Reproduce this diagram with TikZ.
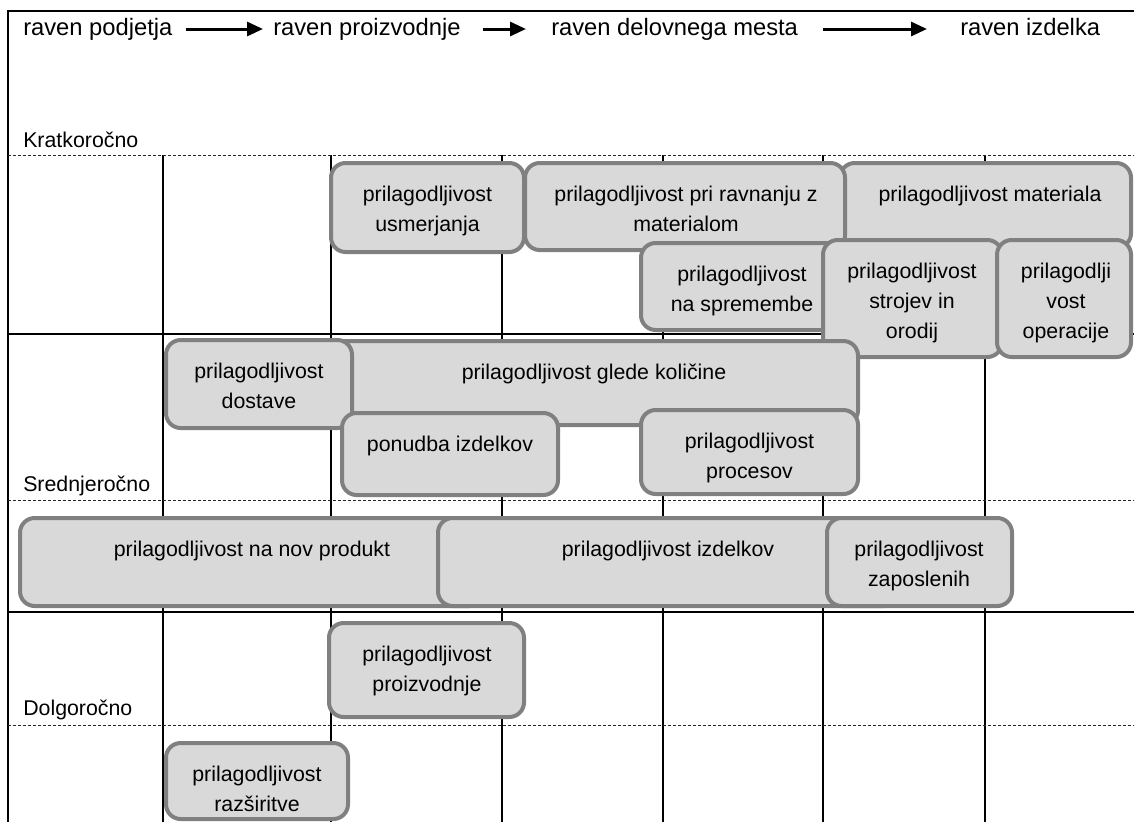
\documentclass[tikz,border=0pt]{standalone}
\usepackage{fontspec}
\setmainfont{Liberation Sans}
\usetikzlibrary{arrows.meta}
\definecolor{boxfill}{HTML}{D9D9D9}
\definecolor{boxline}{HTML}{808080}
\newcommand\st{\strut}
\newcommand\flexbox[7]{%
  \pgfmathsetmacro\bw{(#4-#2)*0.75}%
  \pgfmathsetmacro\bh{(#5-#3)*0.75}%
  \node[box, minimum width=\bw pt, minimum height=\bh pt] (#1) at ({(#2+#4)/2},{(#3+#5)/2}) {};
  \node[boxtext] (#1-t) at (#6,#3+17) {#7};
}
\tikzset{
  box/.style={draw=boxline, fill=boxfill, line width=3pt, rounded corners=11pt, inner sep=0pt, outer sep=0pt},
  boxtext/.style={inner sep=0pt, align=center, anchor=north, font=\fontsize{16}{22.5}\selectfont},
  header/.style={inner sep=0pt, anchor=base west, text height=13pt, text depth=4pt, font=\fontsize{17.8}{21}\selectfont},
  rowlabel/.style={inner sep=0pt, anchor=base west, font=\fontsize{16}{22.5}\selectfont},
  solidline/.style={line width=1.5pt, black},
  dashline/.style={line width=0.75pt, black!85, dash pattern=on 2.25pt off 1.5pt},
  levelarrow/.style={line width=2.25pt, -{Triangle[length=12pt, width=10.5pt]}},
}
\begin{document}
\begin{tikzpicture}[x=0.75pt, y=-0.75pt]
\useasboundingbox (0,0) rectangle (1134,822);
% frame and grid
\draw[solidline] (8,822) -- (8,11) -- (1134,11);
\foreach \xx in {163,331,502,663,823,985} \draw[solidline] (\xx,155) -- (\xx,822);
\foreach \yy in {334,612} \draw[solidline] (8,\yy) -- (1134,\yy);
\foreach \yy in {155,500,725} \draw[dashline] (8,\yy) -- (1134,\yy);
% headers
\node[header] (h1) at (23,35) {raven podjetja};
\node[header] (h2) at (273,35) {raven proizvodnje};
\node[header] (h3) at (551,35) {raven delovnega mesta};
\node[header] (h4) at (960,35) {raven izdelka};
\draw[levelarrow, shorten <=9.75pt, shorten >=7.5pt] (h1.east) -- (h2.west);
\draw[levelarrow, shorten <=16.5pt, shorten >=18.75pt] (h2.east) -- (h3.west);
\draw[levelarrow, shorten <=18.75pt, shorten >=24.75pt] (h3.east) -- (h4.west);
% row labels
\node[rowlabel] (r1) at (23,147) {Kratkoročno};
\node[rowlabel] (r2) at (23,491) {Srednjeročno};
\node[rowlabel] (r3) at (23,715) {Dolgoročno};
% boxes
\flexbox{usm}{331}{163}{524}{252}{427.5}{\st prilagodljivost\\\st usmerjanja}
\flexbox{mat}{840}{163}{1131}{248}{990}{\st prilagodljivost materiala}
\flexbox{rav}{525}{163}{845}{250}{686}{\st prilagodljivost pri ravnanju z\\\st materialom}
\flexbox{spr}{641}{243}{845}{330}{742}{\st prilagodljivost\\\st na spremembe}
\flexbox{str}{823}{240}{1002}{357}{912}{\st prilagodljivost\\\st strojev in\\\st orodij}
\flexbox{ope}{997}{240}{1131}{357}{1066}{\st prilagodlji\\\st vost\\\st operacije}
\flexbox{gle}{330}{341}{858}{425}{594}{\st prilagodljivost glede količine}
\flexbox{dos}{166}{340}{352}{428}{259}{\st prilagodljivost\\\st dostave}
\flexbox{pon}{342}{413}{558}{495}{450}{\st ponudba izdelkov}
\flexbox{pro}{641}{410}{858}{494}{749.5}{\st prilagodljivost\\\st procesov}
\flexbox{nov}{20}{518}{484}{606}{252}{\st prilagodljivost na nov produkt}
\flexbox{izd}{438}{518}{898}{606}{668}{\st prilagodljivost izdelkov}
\flexbox{zap}{827}{518}{1012}{606}{919}{\st prilagodljivost\\\st zaposlenih}
\flexbox{prz}{329}{623}{524}{717}{427}{\st prilagodljivost\\\st proizvodnje}
\flexbox{raz}{166}{743}{348}{819}{257}{\st prilagodljivost\\\st razširitve}
\end{tikzpicture}
\end{document}
